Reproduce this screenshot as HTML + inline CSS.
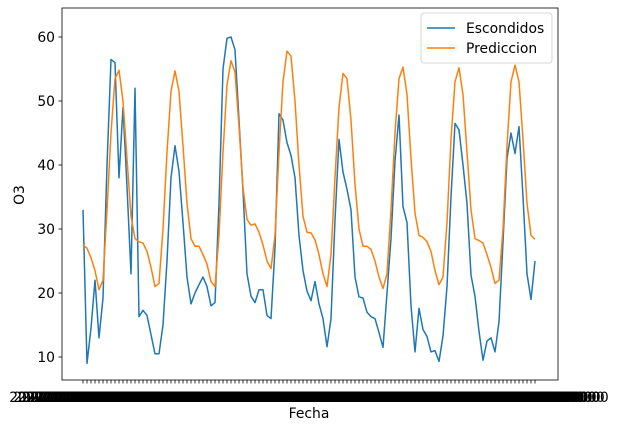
<!DOCTYPE html>
<html><head><meta charset="utf-8"><style>
body{margin:0;background:#fff;}
svg{display:block;font-family:"DejaVu Sans","Liberation Sans",sans-serif;}
</style></head><body>
<svg id="chart" width="617" height="432" viewBox="0 0 617 432" xmlns="http://www.w3.org/2000/svg">
<rect x="0" y="0" width="617" height="432" fill="#fff"/>
<g id="ticks"></g>
<g id="series"></g>
<rect x="62" y="8" width="496" height="372" fill="none" stroke="#000" stroke-width="0.8"/>
<text x="309" y="418" font-size="13.9" text-anchor="middle">Fecha</text>
<text x="24" y="195" font-size="13.9" text-anchor="middle" transform="rotate(-90 24 195)">O3</text>
<g>
<rect x="421" y="13" width="131" height="50" rx="3" fill="#fff" fill-opacity="0.8" stroke="#ccc" stroke-width="0.8"/>
<line x1="427" y1="28" x2="455" y2="28" stroke="#1f77b4" stroke-width="1.5"/>
<text x="466" y="33" font-size="13.9">Escondidos</text>
<line x1="427" y1="48" x2="455" y2="48" stroke="#ff7f0e" stroke-width="1.5"/>
<text x="466" y="53" font-size="13.9">Prediccion</text>
</g>
</svg>
<script>
const escondidos=[33,9,14.5,22,13,19.2,40,56.5,56,38,49,36.6,23,52,16.3,17.3,16.5,13.5,10.5,10.5,15,25,38,43,39,31,22.5,18.3,20,21.3,22.5,21,18,18.5,34,55,59.8,60,58,47,36,23,19.5,18.5,20.5,20.5,16.5,16,27,48,47,43.5,41.5,38,29,23.5,20.3,18.8,21.8,18.3,16,11.6,16,31.4,44,38.9,36.2,33,22.5,19.4,19.2,17,16.3,16,13.8,11.5,20,28.5,40.6,47.8,33.5,31,18,10.8,17.6,14.3,13.2,10.8,11,9.3,13.3,21,35,46.5,45.5,40,34,22.8,19.5,14,9.5,12.5,13,10.8,15.5,28,41,45,41.8,46,35,23,19,25];
const prediccion=[27.5,27,25.5,23.5,20.5,22,33,45,53.5,54.8,50,41,32,28.5,28,27.8,26.5,24,21,21.5,30,42,51.5,54.7,51.5,43,34,28.5,27.3,27.3,26,24.5,21.8,21,29,42,52.5,56.3,54.5,46,36.5,31.5,30.6,30.8,29.5,27.5,25,23.8,29,42,53,57.8,57,50,40,32,29.5,29.4,28.3,26,23,21,26,38,49,54.3,53.5,47,37,30,27.3,27.3,26.8,25,22.5,20.7,23,33,45,53.5,55.3,51,41,32.5,29,28.7,28,26.5,23.5,21.3,22.5,31,44,53,55.2,51,42,33,28.5,28.2,27.8,26,24,21.5,22,30,43,53,55.6,53,44,34,29,28.4];
const yTicks=[10,20,30,40,50,60];
const NS="http://www.w3.org/2000/svg";
const n=escondidos.length;
const fechas=[];
for(let i=0;i<n;i++){const d=new Date(Date.UTC(2022,0,1+i));fechas.push(d.toISOString().slice(0,10)+" 00:00:00");}
function xs(i){return 83+i*(452/(n-1));}
function ys(v){return 357-(v-10)*6.4;}
const tg=document.getElementById('ticks');
yTicks.forEach(v=>{
 const l=document.createElementNS(NS,'line');
 l.setAttribute('x1',58.5);l.setAttribute('x2',62);l.setAttribute('y1',ys(v));l.setAttribute('y2',ys(v));
 l.setAttribute('stroke','#000');l.setAttribute('stroke-width','0.8');
 
 
 tg.appendChild(l);
 const t=document.createElementNS(NS,'text');
 t.setAttribute('x',55);t.setAttribute('y',ys(v)+5);t.setAttribute('font-size','13.9');t.setAttribute('text-anchor','end');
 t.textContent=v;
 
 
 tg.appendChild(t);
});
fechas.forEach((f,i)=>{
 const l=document.createElementNS(NS,'line');
 l.setAttribute('x1',xs(i));l.setAttribute('x2',xs(i));l.setAttribute('y1',380);l.setAttribute('y2',383.5);
 l.setAttribute('stroke','#000');l.setAttribute('stroke-width','0.8');
 
 
 tg.appendChild(l);
 const t=document.createElementNS(NS,'text');
 t.setAttribute('x',xs(i));t.setAttribute('y',402);t.setAttribute('font-size','13.9');t.setAttribute('text-anchor','middle');
 t.textContent=f;
 
 
 tg.appendChild(t);
});
const sg=document.getElementById('series');
function line(arr,color,name){
 const p=document.createElementNS(NS,'polyline');
 p.setAttribute('points',arr.map((v,i)=>xs(i).toFixed(2)+','+ys(v).toFixed(2)).join(' '));
 p.setAttribute('fill','none');p.setAttribute('stroke',color);p.setAttribute('stroke-width','1.5');p.setAttribute('stroke-linejoin','round');
 
 
 sg.appendChild(p);
}
line(escondidos,'#1f77b4','escondidos-line');
line(prediccion,'#ff7f0e','prediccion-line');
</script>
</body></html>
